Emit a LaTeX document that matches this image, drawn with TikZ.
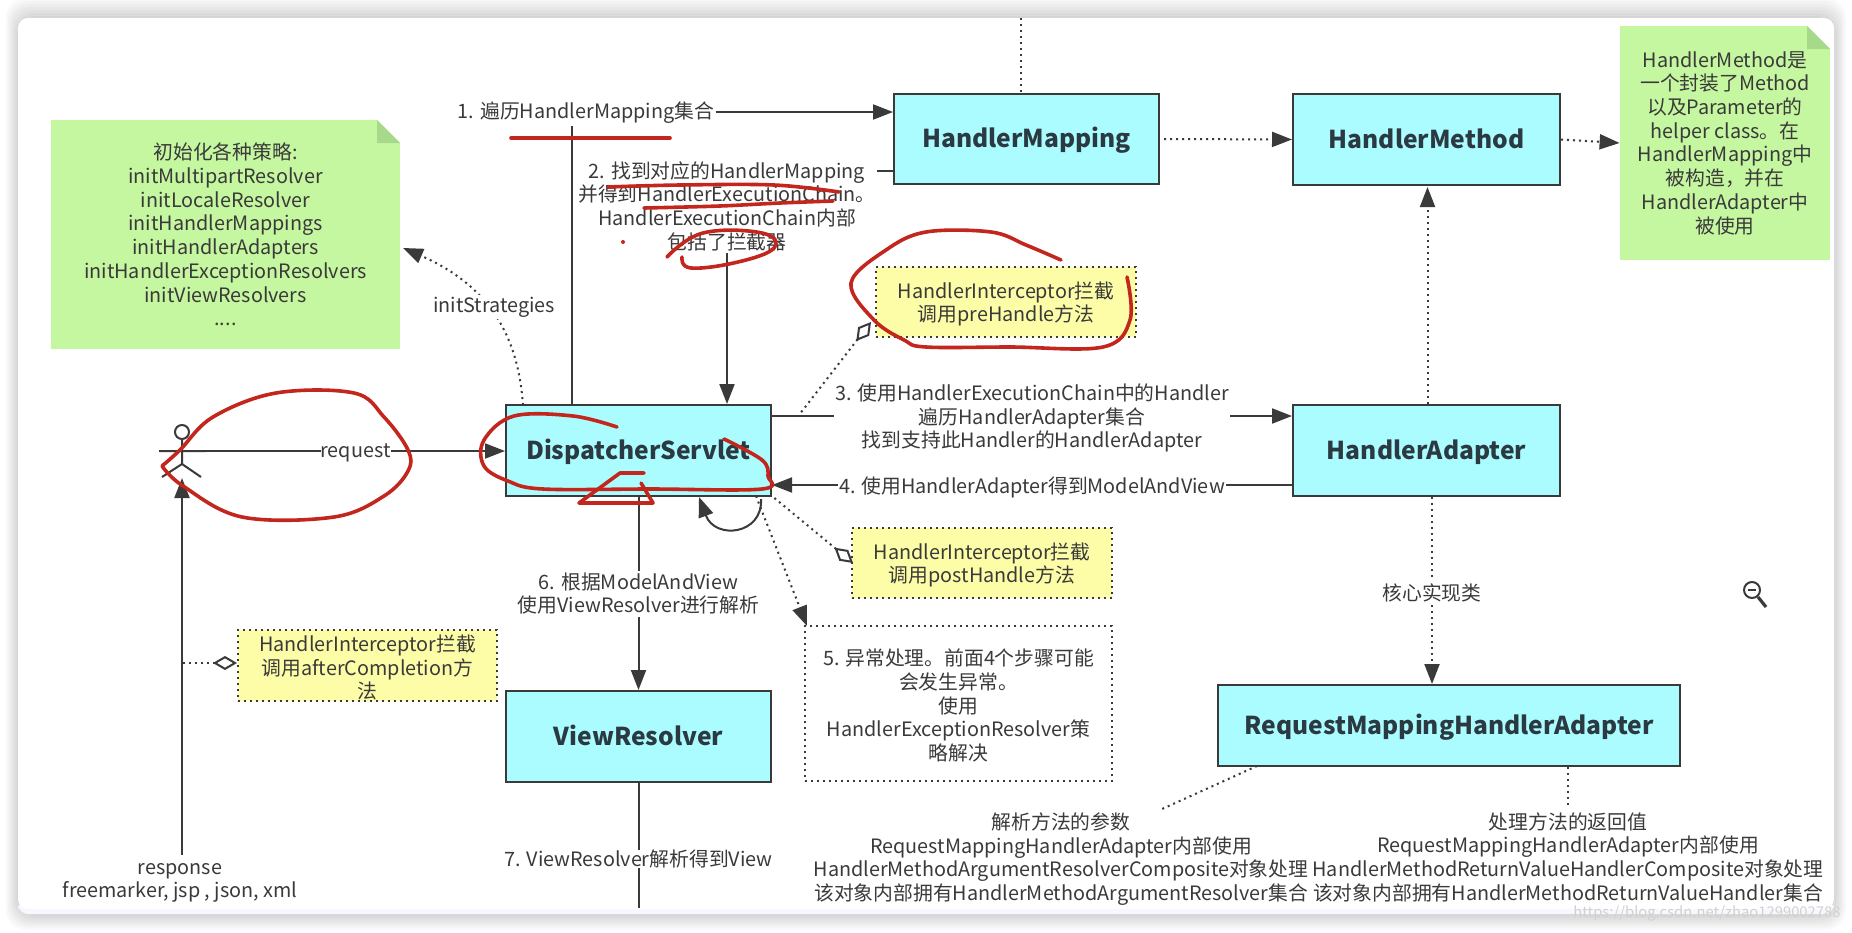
\documentclass[tikz,border=0pt]{standalone}
\usepackage{fontspec}
\setmainfont{Noto Sans CJK SC}
\usetikzlibrary{arrows.meta}
\definecolor{boxfill}{HTML}{ABFCFF}
\definecolor{notefill}{HTML}{C5F6A0}
\definecolor{foldfill}{HTML}{A6D98A}
\definecolor{hintfill}{HTML}{FDFDA8}
\definecolor{ink}{HTML}{3A3A3A}
\definecolor{titleink}{HTML}{2B3A42}
\definecolor{pen}{HTML}{C3261C}
\tikzset{
	classbox/.style = {draw = ink, line width = 1pt, fill = boxfill, inner sep = 0pt, text height = 11pt, text depth = 2.5pt, text = titleink, font = \fontsize{12.3}{14}\selectfont\bfseries},
	stickynote/.style = {fill = notefill, inner sep = 0pt, align = center, text = ink, font = \fontsize{9.9}{11.85}\selectfont},
	hintbox/.style = {draw = ink, dotted, line width = 1pt, fill = hintfill, inner sep = 0pt},
	lbl/.style = {fill = white, inner xsep = 0.5pt, inner ysep = 1pt, yshift = -1pt, align = center, text = ink, font = \fontsize{9.9}{11.85}\selectfont},
	solidline/.style = {draw = ink, line width = 1pt},
	dotline/.style = {draw = ink, line width = 1pt, dash pattern = on 1pt off 2pt},
	tip/.style = {-{Triangle[length = 10pt, width = 7.5pt]}},
	hollow/.style = {{Diamond[open, length = 12pt, width = 7pt, line width = 1pt]}-},
	redpen/.style = {draw = pen, line width = 1.8pt, line cap = round, line join = round}
}
\begin{document}
\begin{tikzpicture}[x = 0.5pt, y = -0.5pt]
	\useasboundingbox (0,0) rectangle (1852,932);
	\fill[white] (0,0) rectangle (1852,932);
	\foreach \s in {20,17,14,11,8,5,2}
		\fill[black, opacity = 0.022, rounded corners = 10pt] (18-\s*0.6,18-\s) rectangle (1834+\s*0.6,914+\s*0.8);
	\fill[black!4!blue!3!white, rounded corners = 5pt] (18,900) rectangle (1834,914);
	\fill[white, rounded corners = 5pt] (18,18) rectangle (1834,909);

	\node[classbox, minimum width = 132.5pt, minimum height = 45.5pt] (dispatcher) at (638.5,450.5) {DispatcherServlet};
	\node[classbox, minimum width = 132.5pt, minimum height = 45pt] (mapping) at (1026.5,139) {HandlerMapping};
	\node[classbox, minimum width = 133.5pt, minimum height = 45.5pt] (method) at (1426.5,139.5) {HandlerMethod};
	\node[classbox, minimum width = 133.5pt, minimum height = 45.5pt] (adapter) at (1426.5,450.5) {HandlerAdapter};
	\node[classbox, minimum width = 132.5pt, minimum height = 45.5pt] (resolver) at (638.5,736.5) {ViewResolver};
	\node[classbox, minimum width = 231pt, minimum height = 40.5pt] (rmha) at (1449,725.5) {RequestMappingHandlerAdapter};

	\node[stickynote, minimum width = 174.5pt, minimum height = 114.5pt] (strategies) at (225.5,234.5) {初始化各种策略:\\initMultipartResolver\\initLocaleResolver\\initHandlerMappings\\initHandlerAdapters\\initHandlerExceptionResolvers\\initViewResolvers\\....};
	\fill[white] (377,120) -- (400,120) -- (400,143) -- cycle;
	\fill[foldfill] (377,120) -- (400,143) -- (377,143) -- cycle;
	\node[stickynote, minimum width = 105pt, minimum height = 117pt] (methodnote) at (1725,143) {HandlerMethod是\\一个封装了Method\\以及Parameter的\\helper class。在\\HandlerMapping中\\被构造，并在\\HandlerAdapter中\\被使用};
	\fill[white] (1807,26) -- (1830,26) -- (1830,49) -- cycle;
	\fill[foldfill] (1807,26) -- (1830,49) -- (1807,49) -- cycle;

	\node[hintbox, minimum width = 130pt, minimum height = 35pt] (prehandle) at (1006,302) {};
	\node[lbl, fill = none] (prehandletext) at (prehandle) {HandlerInterceptor拦截\\调用preHandle方法};
	\node[hintbox, minimum width = 130pt, minimum height = 35pt] (posthandle) at (982,563) {};
	\node[lbl, fill = none] (posthandletext) at (posthandle) {HandlerInterceptor拦截\\调用postHandle方法};
	\node[hintbox, minimum width = 129.5pt, minimum height = 35.5pt] (aftercompletion) at (367.5,665.5) {};
	\node[lbl, fill = none] (aftercompletiontext) at (aftercompletion) {HandlerInterceptor拦截\\调用afterCompletion方\\法};
	\node[draw = ink, dotted, line width = 1pt, minimum width = 153.5pt, minimum height = 77.5pt, inner sep = 0pt] (exceptionbox) at (958.5,703.5) {};
	\node[lbl, fill = none] (exceptiontext) at (exceptionbox) {5. 异常处理。前面4个步骤可能\\会发生异常。\\使用\\HandlerExceptionResolver策\\略解决};

	% the actor
	\draw[solidline] (182,432) circle (3.5pt);
	\coordinate (neck) at (182,439);
	\coordinate (hip) at (182,464);
	\coordinate (armleft) at (159,451);
	\coordinate (armright) at (206,451);
	\draw[solidline] (neck) -- (hip) (armleft) -- (armright) (162,477) -- (hip) -- (201,477);

	\coordinate (top) at (1021,18);
	\draw[dotline] (top) -- (mapping.north -| top);
	\node[lbl] (stepone) at (586,111) {1. 遍历HandlerMapping集合};
	\coordinate (steponex) at (572,0);
	\coordinate (steponey) at (0,112);
	\draw[solidline] (dispatcher.north -| steponex) -- (steponex |- stepone.south);
	\draw[solidline, tip] (stepone.east |- steponey) -- (mapping.west |- steponey);
	\coordinate (steptwoy) at (0,171);
	\coordinate (steptwox) at (727,0);
	\node[lbl] (steptwo) at (727,204) {2. 找到对应的HandlerMapping\\并得到HandlerExecutionChain。\\HandlerExecutionChain内部\\包括了拦截器};
	\draw[solidline] (mapping.west |- steptwoy) -- (steptwo.east |- steptwoy);
	\draw[solidline, tip] (steptwox |- steptwo.south) -- (dispatcher.north -| steptwox);
	\draw[dotline, tip] (mapping.east) ++(4,0) -- (method.west);
	\draw[dotline, tip] (method.east) -- (methodnote.west);
	\draw[dotline, tip] (adapter.north) ++(1,0) -- ++(0,-217);
	\coordinate (coreline) at (1432,0);
	\draw[dotline, tip] (adapter.south -| coreline) -- node[lbl] (coreclass) {核心实现类} (rmha.north -| coreline);

	\coordinate (stepthreey) at (0,416);
	\draw[solidline, tip] (dispatcher.east |- stepthreey) -- node[lbl] (stepthree) {3. 使用HandlerExecutionChain中的Handler\\遍历HandlerAdapter集合\\找到支持此Handler的HandlerAdapter} (adapter.west |- stepthreey);
	\coordinate (stepfoury) at (0,485);
	\draw[solidline, tip] (adapter.west |- stepfoury) -- node[lbl, inner ysep = 0pt] (stepfour) {4. 使用HandlerAdapter得到ModelAndView} (dispatcher.east |- stepfoury);
	\draw[solidline, tip] (armright) -- node[lbl, inner xsep = 0pt, inner ysep = 0pt] (request) {request} (dispatcher.west |- armright);

	\coordinate (initstart) at (523,405);
	\coordinate (initend) at (403,248);
	\draw[dotline, tip] (initstart) .. controls (519,350) and (500,290) .. (initend);
	\node[lbl] (initstrategies) at (494,305) {initStrategies};

	\coordinate (preanchor) at (799,415);
	\coordinate (prediamond) at (871,322);
	\draw[dotline, hollow] (prediamond) -- (preanchor);
	\coordinate (postanchor) at (772,496);
	\coordinate (postdiamond) at (853,563);
	\draw[dotline, hollow] (postdiamond) -- (postanchor);
	\coordinate (loopstart) at (761,499);
	\coordinate (loopend) at (699,497);
	\draw[solidline, tip] (loopstart) .. controls (763,535) and (715,540) .. (loopend);
	\coordinate (exceptionstart) at (756,496);
	\coordinate (exceptionend) at (807,626);
	\draw[dotline, tip] (exceptionstart) -- (exceptionend);

	\draw[solidline, tip] (dispatcher.south) -- node[lbl, pos = 0.49] (stepsix) {6. 根据ModelAndView\\使用ViewResolver进行解析} (resolver.north);
	\coordinate (resolverend) at (638.5,908);
	\draw[solidline] (resolver.south) -- node[lbl, pos = 0.59, inner ysep = 0pt] (stepseven) {7. ViewResolver解析得到View} (resolverend);

	\node[lbl] (response) at (180,881) {response\\freemarker, jsp , json, xml};
	\draw[solidline, tip] (182,855) coordinate (responsetop) -- (182,478);
	\coordinate (aftery) at (182,663);
	\draw[dotline, hollow] (aftercompletion.west |- aftery) -- (aftery);

	\coordinate (paramdot) at (1162,809);
	\coordinate (returnx) at (1568,0);
	\coordinate (returndot) at (1568,808);
	\draw[dotline] (1257,766) -- (paramdot);
	\draw[dotline] (rmha.south -| returnx) -- (returndot);
	\node[lbl, fill = none] (paramtext) at (1061,857) {解析方法的参数\\RequestMappingHandlerAdapter内部使用\\HandlerMethodArgumentResolverComposite对象处理\\该对象内部拥有HandlerMethodArgumentResolver集合};
	\node[lbl, fill = none] (returntext) at (1568,855) {处理方法的返回值\\RequestMappingHandlerAdapter内部使用\\HandlerMethodReturnValueHandlerComposite对象处理\\该对象内部拥有HandlerMethodReturnValueHandler集合};

	\draw[ink, line width = 1pt] (1752,590) circle (4pt);
	\draw[ink, line width = 1pt] (1748,590) -- (1756,590);
	\draw[ink, line width = 1.6pt] (1758,597) -- (1766,607);
	\node[text = black!18, font = \fontsize{7.4}{9}\selectfont] (watermark) at (1707,913) {https://blog.csdn.net/zhao1299002788};

	\draw[redpen] (511,138) -- (670,138);
	\draw[redpen] plot[smooth, tension = 0.6] coordinates {(162,466) (183,486) (242,517) (334,517) (384,496) (408,471) (408,450) (384,417) (354,393) (276,393) (213,417) (180,450) (162,466)};
	\draw[redpen] plot[smooth, tension = 0.6] coordinates {(617,427) (573,416) (514,416) (484,440) (484,466) (508,481) (543,489) (650,489) (762,489) (768,476) (762,460) (724,439)};
	\draw[redpen] (644,473) -- (620,473) -- (579,503) -- (653,503) -- (641,483);
	\draw[redpen] plot[smooth, tension = 0.6] coordinates {(608,187) (680,185) (774,185) (839,192)};
	\draw[redpen] plot[smooth, tension = 0.6] coordinates {(644,208) (720,206) (780,203) (833,201)};
	\draw[redpen] plot[smooth, tension = 0.7] coordinates {(667,257) (703,233) (762,233) (774,248) (738,262) (691,268) (682,257)};
	\fill[pen] (623,242) circle (1pt);
	\draw[redpen] plot[smooth, tension = 0.6] coordinates {(1061,260) (1026,245) (991,232) (926,232) (886,250) (851,283) (874,320) (904,340) (926,347) (1010,347) (1103,347) (1130,320) (1127,277)};
\end{tikzpicture}
\end{document}
